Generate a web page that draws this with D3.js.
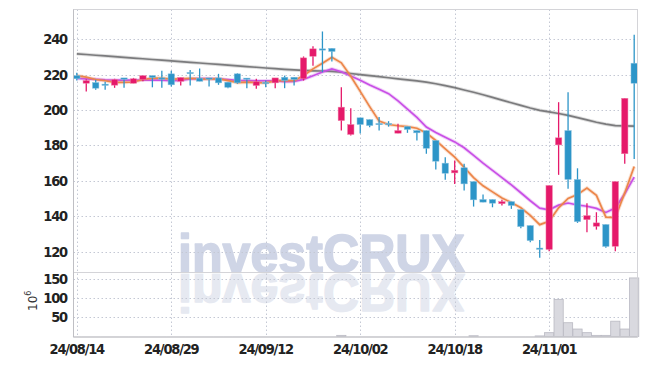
<!DOCTYPE html>
<html lang="en">
<head>
<meta charset="UTF-8">
<title>investCRUX candlestick</title>
<script src="https://d3js.org/d3.v7.min.js"></script>
<style>
    body { margin: 0; background: #fff; }
    svg { display: block; }
    .tick-label {
        font-family: "DejaVu Sans Condensed", "Liberation Sans Narrow", "DejaVu Sans", sans-serif;
        font-weight: bold;
        font-size: 14.5px;
        fill: #222;
        letter-spacing: -1.2px;
    }
    .grid { stroke: #c4c8d4; stroke-width: 1; stroke-dasharray: 1.5 2.5; }
</style>
</head>
<body>
<svg id="chart" width="647" height="366"></svg>
<script>
    // Trading days
    const dates = [
        "24/08/14","24/08/16","24/08/19","24/08/20","24/08/21","24/08/22","24/08/23","24/08/26","24/08/27","24/08/28",
        "24/08/29","24/08/30","24/09/02","24/09/03","24/09/04","24/09/05","24/09/06","24/09/09","24/09/10","24/09/11",
        "24/09/12","24/09/13","24/09/19","24/09/20","24/09/23","24/09/24","24/09/25","24/09/26","24/09/27","24/09/30",
        "24/10/02","24/10/04","24/10/07","24/10/08","24/10/10","24/10/11","24/10/14","24/10/15","24/10/16","24/10/17",
        "24/10/18","24/10/21","24/10/22","24/10/23","24/10/24","24/10/25","24/10/28","24/10/29","24/10/30","24/10/31",
        "24/11/01","24/11/04","24/11/05","24/11/06","24/11/07","24/11/08","24/11/11","24/11/12","24/11/13","24/11/14"
    ];
    const opens = [
        219.4,215.1,215.5,214.6,214.0,218.1,215.1,217.2,219.4,218.1,
        220.4,216.2,221.2,218.0,218.1,218.1,215.7,220.4,218.0,213.8,
        215.6,215.3,218.5,218.5,217.6,230.3,234.5,234.8,194.0,186.2,
        195.6,194.6,192.4,192.4,186.9,190.7,188.4,188.4,182.8,170.0,
        164.5,167.4,159.6,149.5,149.5,147.1,148.3,143.8,134.8,122.1,
        121.3,180.3,188.4,160.8,138.1,134.4,135.4,123.1,175.3,226.4
    ];
    const highs = [
        221.0,217.4,217.0,216.0,217.6,218.1,218.1,219.4,219.4,222.2,
        222.2,218.3,222.6,223.4,218.1,220.4,215.7,220.7,218.0,217.6,
        216.6,218.1,219.4,218.5,230.2,236.0,244.3,234.8,212.8,201.0,
        195.6,194.6,196.0,193.7,192.2,190.7,188.4,188.4,182.8,173.3,
        171.5,169.6,159.6,152.3,149.5,149.3,148.3,143.8,134.8,126.7,
        157.4,204.4,210.0,167.1,147.4,142.3,135.4,159.6,206.6,242.4
    ];
    const lows = [
        216.6,210.4,211.4,211.4,212.5,212.5,215.1,216.2,212.8,212.5,
        213.2,213.8,213.8,216.2,213.2,214.2,212.3,214.8,212.3,212.0,
        212.8,212.3,212.3,213.8,216.6,225.0,221.3,227.3,188.4,185.6,
        186.7,190.3,188.4,190.6,186.9,187.1,182.8,175.3,166.4,160.6,
        158.3,154.6,145.5,148.0,145.1,146.1,144.2,133.3,125.4,116.6,
        120.3,163.4,155.5,136.3,131.0,132.5,122.2,120.3,169.6,172.4
    ];
    const closes = [
        217.6,216.6,212.3,214.4,217.2,217.3,217.6,219.4,218.3,217.6,
        214.2,218.3,221.0,216.2,217.5,215.3,212.8,215.3,217.4,216.0,
        215.2,218.1,216.6,217.2,229.4,234.5,234.3,233.0,201.6,191.8,
        191.8,191.2,192.2,192.0,188.4,189.0,187.1,178.4,171.1,164.3,
        166.0,158.3,149.3,148.0,147.4,148.3,146.1,134.2,126.3,121.8,
        157.4,184.3,160.8,137.0,140.4,136.3,123.0,159.6,206.6,215.1
    ];
    // moving averages
    const ma5 = [
        219.4,218.5,217.2,216.5,215.6,215.6,215.8,217.2,218.0,218.0,
        217.4,217.6,217.9,217.5,217.4,217.7,216.6,215.4,215.7,215.4,
        215.3,216.4,216.7,216.6,219.3,223.2,226.4,229.7,226.6,219.0,
        210.5,201.9,193.7,191.8,191.1,190.6,189.7,187.0,182.8,178.0,
        173.4,167.6,161.8,157.2,153.8,150.3,147.8,144.8,140.5,135.3,
        137.2,144.8,150.1,152.3,156.0,151.8,139.5,139.3,153.2,168.1
    ];
    const ma10 = [
        217.8,217.6,217.3,217.0,216.9,216.8,216.8,216.9,216.9,216.8,
        216.5,216.7,217.5,217.7,217.7,217.5,217.1,216.7,216.6,216.4,
        216.5,216.5,216.0,216.1,217.3,219.3,221.4,223.2,221.6,219.2,
        216.8,214.1,211.7,209.2,205.1,200.5,195.8,190.4,187.3,184.6,
        182.0,178.7,174.4,170.0,165.9,161.8,157.7,153.3,148.8,144.6,
        143.7,146.3,147.5,146.4,145.7,144.5,142.2,144.7,152.7,162.1
    ];
    const maLong = [
        231.7,231.3,230.9,230.5,230.1,229.7,229.3,228.9,228.5,228.1,
        227.7,227.3,226.9,226.5,226.1,225.7,225.3,224.9,224.5,224.1,
        223.7,223.3,222.9,222.6,222.3,222.1,222.0,221.8,221.3,220.6,
        220.0,219.4,218.8,218.2,217.6,217.0,216.4,215.7,214.8,213.7,
        212.6,211.3,210.0,208.6,207.1,205.6,204.1,202.6,201.1,199.8,
        198.9,198.0,197.0,195.7,194.4,193.1,192.0,191.2,191.0,190.9
    ];
    // volume, 10^6
    const volumes = [
        0.3,0.3,0.3,0.3,0.3,0.3,0.3,0.3,0.3,0.3,
        0.3,0.3,0.3,0.3,0.3,0.3,0.3,0.3,0.3,0.3,
        0.3,0.3,0.3,0.3,0.3,0.3,0.3,0.3,3,0.3,
        0.3,0.3,0.3,0.3,0.3,0.3,0.3,0.3,0.3,0.3,
        0.3,0.3,2,0.3,0.3,0.3,0.3,0.3,0.3,1.5,
        10,97,36,19.5,10,3,3,40,19.5,153
    ];
    const priceTicks = [120, 140, 160, 180, 200, 220, 240];
    const volTicks = [50, 100, 150];
    const dateTicks = [0, 10, 20, 30, 40, 50];

    const svg = d3.select("#chart");
    const pLeft = 73.5, pRight = 637.5, pTop = 9.5, pMid = 272.5, pBottom = 337;

    const x = d3.scaleLinear().domain([-0.35, 59.35]).range([pLeft, pRight]);
    const y = d3.scaleLinear().domain([108.3, 256.7]).range([pMid, pTop]);
    const yv = d3.scaleLinear().domain([0, 167.2]).range([pBottom - 0.5, pMid]);

    const up = "#e5196a", down = "#2d95c8";
    const candles = dates.map((d, i) => ({ i, d, o: opens[i], h: highs[i], l: lows[i], c: closes[i], v: volumes[i] }));

    // watermark + reflection
    const defs = svg.append("defs");
    defs.append("clipPath").attr("id", "volclip").append("rect")
        .attr("x", pLeft).attr("y", pMid + 1).attr("width", pRight - pLeft).attr("height", bottomGap());
    function bottomGap() { return pBottom - pMid - 1; }

    const mark = (sel, fill) => sel
        .attr("textLength", 287).attr("lengthAdjust", "spacingAndGlyphs")
        .style("font-family", "'Liberation Sans', Arial, sans-serif")
        .style("font-weight", "bold").style("font-size", "54px")
        .attr("fill", fill).attr("stroke", fill).attr("stroke-width", 1.6)
        .attr("stroke-linejoin", "round")
        .text("investCRUX");

    svg.append("text").attr("x", 178).attr("y", pMid - 1).call(mark, "#cfd5e6");
    svg.append("g").attr("clip-path", "url(#volclip)")
        .append("text")
        .attr("transform", `translate(0,${2 * pMid + 1}) scale(1,-1)`)
        .attr("x", 178).attr("y", pMid)
        .call(mark, "#e6e9f1");

    // grid
    const grid = svg.append("g");
    grid.selectAll(".hp").data(priceTicks).enter().append("line")
        .attr("class", "grid")
        .attr("x1", pLeft).attr("x2", pRight)
        .attr("y1", d => Math.round(y(d)) + 0.5).attr("y2", d => Math.round(y(d)) + 0.5);
    grid.selectAll(".hv").data(volTicks).enter().append("line")
        .attr("class", "grid")
        .attr("x1", pLeft).attr("x2", pRight)
        .attr("y1", d => Math.round(yv(d)) + 0.5).attr("y2", d => Math.round(yv(d)) + 0.5);
    grid.selectAll(".vx").data(dateTicks).enter().append("line")
        .attr("class", "grid")
        .attr("x1", d => Math.round(x(d)) + 0.5).attr("x2", d => Math.round(x(d)) + 0.5)
        .attr("y1", pTop).attr("y2", pBottom);

    // volume bars
    const bw = 9.2;
    svg.append("g").selectAll("rect").data(candles).enter().append("rect")
        .attr("x", d => x(d.i) - bw / 2)
        .attr("y", d => yv(d.v))
        .attr("width", bw)
        .attr("height", d => yv(0) - yv(d.v))
        .attr("fill", "#d9d9df")
        .attr("stroke", d => d.v > 1 ? "#b9b9c2" : "none")
        .attr("stroke-width", 0.8);

    // moving averages
    const line = arr => d3.line().x((d, i) => x(i)).y(d => y(d))(arr);
    const mas = [
        { data: maLong, color: "#7b7b7d" },
        { data: ma10, color: "#c94fe6" },
        { data: ma5, color: "#ec864a" }
    ];
    mas.forEach(m => {
        svg.append("path").attr("d", line(m.data)).attr("fill", "none")
            .attr("stroke", m.color).attr("stroke-opacity", 0.25).attr("stroke-width", 3.6);
        svg.append("path").attr("d", line(m.data)).attr("fill", "none")
            .attr("stroke", m.color).attr("stroke-width", 1.7);
    });

    // candles
    const cw = 6.4;
    const cg = svg.append("g").selectAll("g").data(candles).enter().append("g");
    cg.append("line")
        .attr("x1", d => x(d.i)).attr("x2", d => x(d.i))
        .attr("y1", d => y(d.h)).attr("y2", d => y(d.l))
        .attr("stroke", d => d.c >= d.o ? up : down)
        .attr("stroke-width", 1.3);
    cg.append("rect")
        .attr("x", d => x(d.i) - cw / 2)
        .attr("width", cw)
        .attr("y", d => y(Math.max(d.o, d.c)))
        .attr("height", d => Math.max(1.3, Math.abs(y(d.o) - y(d.c))))
        .attr("fill", d => d.c >= d.o ? up : down)
        .attr("stroke", d => d.c >= d.o ? "#f07fa8" : "#8cc3e0")
        .attr("stroke-width", 0.5);

    // frame
    svg.append("rect").attr("x", pLeft).attr("y", pTop).attr("width", pRight - pLeft).attr("height", pBottom - pTop)
        .attr("fill", "none").attr("stroke", "#d4d4d8").attr("stroke-width", 1);
    svg.append("line").attr("x1", pLeft).attr("x2", pRight).attr("y1", pMid).attr("y2", pMid)
        .attr("stroke", "#d4d4d8");
    svg.append("line").attr("x1", pLeft).attr("x2", pLeft).attr("y1", pTop).attr("y2", pBottom)
        .attr("stroke", "#bfbfc4");
    svg.append("line").attr("x1", pLeft).attr("x2", pRight).attr("y1", pBottom).attr("y2", pBottom)
        .attr("stroke", "#bfbfc4");

    // labels
    svg.append("g").selectAll("text").data(priceTicks).enter().append("text")
        .attr("class", "tick-label")
        .attr("x", 67).attr("y", d => y(d) + 5)
        .attr("text-anchor", "end")
        .text(d => d);
    svg.append("g").selectAll("text").data(volTicks).enter().append("text")
        .attr("class", "tick-label")
        .attr("x", 67).attr("y", d => yv(d) + 5)
        .attr("text-anchor", "end")
        .text(d => d);
    svg.append("g").selectAll("text").data(dateTicks).enter().append("text")
        .attr("class", "tick-label")
        .attr("x", d => x(d)).attr("y", 354)
        .attr("text-anchor", "middle")
        .text(d => dates[d]);

    const unit = svg.append("text")
        .attr("transform", "translate(37,311) rotate(-90)")
        .style("font-family", "'DejaVu Sans', sans-serif")
        .style("font-size", "12px").attr("fill", "#333");
    unit.append("tspan").text("10");
    unit.append("tspan").attr("dy", -6).style("font-size", "8px").text("6");
</script>
</body>
</html>
